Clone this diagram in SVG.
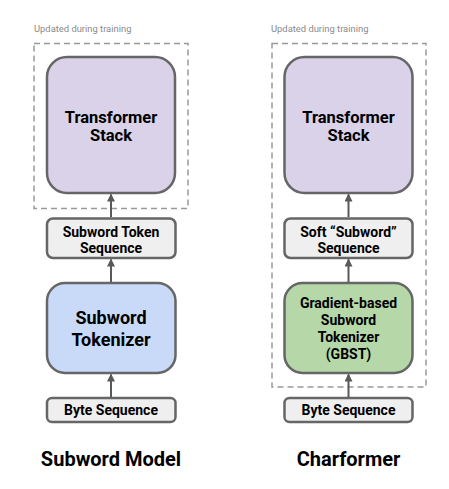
<svg xmlns="http://www.w3.org/2000/svg" width="449" height="489" viewBox="0 0 449 489">
<defs>
<marker id="ah" markerWidth="8" markerHeight="8" refX="7" refY="4" orient="auto" markerUnits="userSpaceOnUse">
<path d="M0,0 L8,4 L0,8 Z" fill="#595959"/>
</marker>
<style>
.box{stroke:#666666;stroke-width:2.5}
.tf{fill:#d9d2e9}
.tok{fill:#c9daf8}
.gb{fill:#b6d7a8}
.sm{fill:#efefef}
.dash{fill:none;stroke:#999999;stroke-width:1.5;stroke-dasharray:6,4}
text{font-family:Roboto,"Liberation Sans",sans-serif;font-weight:bold;fill:#000;text-anchor:middle}
.cap{font-weight:normal;fill:#8a8a8a;font-size:9.4px;text-anchor:start}
.conn{stroke:#595959;stroke-width:2;fill:none;marker-end:url(#ah)}
</style>
</defs>
<rect width="449" height="489" fill="#ffffff"/>
<g id="train-left">
<text class="cap" x="34" y="32">Updated during training</text>
<rect class="dash" x="34" y="43.5" width="154" height="165"/>
</g>
<g id="train-right">
<text class="cap" x="271" y="32">Updated during training</text>
<rect class="dash" x="272" y="43.5" width="154" height="343.5"/>
</g>
<g id="tf-left">
<rect class="box tf" x="47" y="57" width="128" height="136" rx="20"/>
<text x="111" y="123" font-size="16.5">Transformer</text>
<text x="111" y="141" font-size="16.5">Stack</text>
</g>
<g id="sts-left">
<rect class="box sm" x="47" y="218.5" width="128.5" height="39.5" rx="6"/>
<text x="111" y="237" font-size="14">Subword Token</text>
<text x="111" y="252.5" font-size="14">Sequence</text>
</g>
<g id="tok-left">
<rect class="box tok" x="47" y="283" width="128.5" height="90" rx="18"/>
<text x="111" y="323.5" font-size="18">Subword</text>
<text x="111" y="346" font-size="18">Tokenizer</text>
</g>
<g id="byte-left">
<rect class="box sm" x="47" y="398" width="128.5" height="24" rx="5"/>
<text x="111" y="415" font-size="14">Byte Sequence</text>
</g>
<g id="title-left">
<text x="111" y="466" font-size="20">Subword Model</text>
</g>
<g id="tf-right">
<rect class="box tf" x="284.5" y="57" width="128" height="136" rx="20"/>
<text x="348.5" y="123" font-size="16.5">Transformer</text>
<text x="348.5" y="141" font-size="16.5">Stack</text>
</g>
<g id="soft-right">
<rect class="box sm" x="284.5" y="218.5" width="128" height="39.5" rx="6"/>
<text x="348.5" y="237" font-size="14">Soft “Subword”</text>
<text x="348.5" y="252.5" font-size="14">Sequence</text>
</g>
<g id="gbst-right">
<rect class="box gb" x="284.5" y="283" width="128" height="90" rx="18"/>
<text x="348.5" y="308" font-size="14">Gradient-based</text>
<text x="348.5" y="325" font-size="14">Subword</text>
<text x="348.5" y="342" font-size="14">Tokenizer</text>
<text x="348.5" y="359" font-size="14">(GBST)</text>
</g>
<g id="byte-right">
<rect class="box sm" x="284.5" y="398" width="128" height="24" rx="5"/>
<text x="348.5" y="415" font-size="14">Byte Sequence</text>
</g>
<g id="title-right">
<text x="348.5" y="466" font-size="20">Charformer</text>
</g>
<g id="connectors">
<line class="conn" x1="111" y1="217" x2="111" y2="194.5"/>
<line class="conn" x1="111" y1="282" x2="111" y2="259.5"/>
<line class="conn" x1="111" y1="397" x2="111" y2="374.5"/>
<line class="conn" x1="348.5" y1="217" x2="348.5" y2="194.5"/>
<line class="conn" x1="348.5" y1="282" x2="348.5" y2="259.5"/>
<line class="conn" x1="348.5" y1="397" x2="348.5" y2="374.5"/>
</g>
</svg>
